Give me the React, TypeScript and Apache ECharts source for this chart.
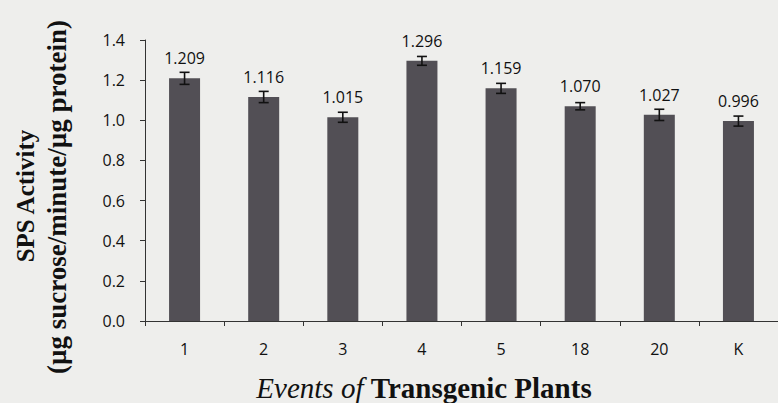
import React, { useEffect, useRef } from "react";
import * as echarts from "echarts";

const categories = ["1", "2", "3", "4", "5", "18", "20", "K"];
const values = [1.209, 1.116, 1.015, 1.296, 1.159, 1.07, 1.027, 0.996];
const errors = [0.03, 0.028, 0.025, 0.022, 0.025, 0.018, 0.028, 0.025];
const yTicks = [0, 0.2, 0.4, 0.6, 0.8, 1.0, 1.2, 1.4];

export default function App() {
  const ref = useRef<HTMLDivElement>(null);
  useEffect(() => {
    if (!ref.current) return;
    const chart = echarts.init(ref.current, undefined, { renderer: "svg" });
    const sans = "'Open Sans', 'Noto Sans', sans-serif";
    const serif = "'Liberation Serif', 'DejaVu Serif', serif";
    chart.setOption({
      animation: false,
      backgroundColor: "#eeeeec",
      grid: { left: 145, top: 40, height: 281, width: 640 },
      xAxis: {
        type: "category",
        data: categories,
        axisLine: { lineStyle: { color: "#333", width: 1 } },
        axisTick: { show: true, length: 5, lineStyle: { color: "#333" } },
        axisLabel: { color: "#111", fontFamily: sans, fontSize: 16, margin: 20 },
      },
      yAxis: {
        type: "value",
        min: yTicks[0],
        max: yTicks[yTicks.length - 1],
        interval: 0.2,
        splitLine: { show: false },
        axisLine: { show: true, lineStyle: { color: "#333", width: 1 } },
        axisTick: { show: true, length: 5, lineStyle: { color: "#333" } },
        axisLabel: {
          color: "#111",
          fontFamily: sans,
          fontSize: 16,
          margin: 20,
          formatter: (v: number) => v.toFixed(1),
        },
      },
      series: [
        {
          type: "bar",
          data: values,
          barWidth: 31,
          itemStyle: { color: "#524f55" },
          label: {
            show: true,
            position: "top",
            distance: 12,
            color: "#111",
            fontFamily: sans,
            fontSize: 16,
            formatter: (p: any) => Number(p.value).toFixed(3),
          },
        },
        {
          type: "custom",
          data: values.map((v, i) => [i, v - errors[i], v + errors[i]]),
          z: 5,
          renderItem: (params: any, api: any) => {
            const x = api.value(0);
            const lo = api.coord([x, api.value(1)]);
            const hi = api.coord([x, api.value(2)]);
            const hw = 5;
            const style = { stroke: "#111", lineWidth: 1.6 };
            return {
              type: "group",
              children: [
                { type: "line", shape: { x1: lo[0], y1: lo[1], x2: hi[0], y2: hi[1] }, style },
                { type: "line", shape: { x1: lo[0] - hw, y1: lo[1], x2: lo[0] + hw, y2: lo[1] }, style },
                { type: "line", shape: { x1: hi[0] - hw, y1: hi[1], x2: hi[0] + hw, y2: hi[1] }, style },
              ],
            };
          },
        },
      ],
      graphic: [
        {
          type: "text",
          x: 25,
          y: 196,
          rotation: Math.PI / 2,
          style: {
            text: "SPS Activity",
            fontFamily: serif,
            fontWeight: "bold",
            fontSize: 25,
            fill: "#111",
            align: "center",
            verticalAlign: "middle",
          },
        },
        {
          type: "text",
          x: 57,
          y: 197,
          rotation: Math.PI / 2,
          style: {
            text: "(µg sucrose/minute/µg protein)",
            fontFamily: serif,
            fontWeight: "bold",
            fontSize: 27,
            fill: "#111",
            align: "center",
            verticalAlign: "middle",
          },
        },
        {
          type: "text",
          x: 424,
          y: 388,
          style: {
            rich: {
              it: { fontFamily: serif, fontStyle: "italic", fontSize: 29, fill: "#111" },
              b: { fontFamily: serif, fontWeight: "bold", fontSize: 29, fill: "#111" },
            },
            text: "{it|Events of }{b|Transgenic Plants}",
            align: "center",
            verticalAlign: "middle",
          },
        },
      ],
    });
    return () => chart.dispose();
  }, []);
  return (
    <div
      ref={ref}
      style={{ position: "fixed", left: 0, top: 0, width: 778, height: 403 }}
    />
  );
}
